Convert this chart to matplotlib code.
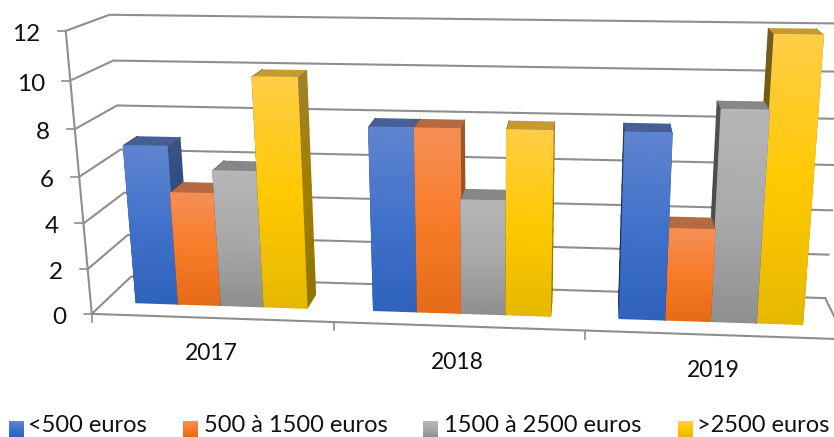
import numpy as np
import matplotlib
matplotlib.use('Agg')
import matplotlib.pyplot as plt
from matplotlib.colors import LinearSegmentedColormap
from matplotlib.patches import Polygon

years = ['2017', '2018', '2019']
series = ['<500 euros', '500 à 1500 euros', '1500 à 2500 euros', '>2500 euros']
low = [7, 8, 8]
mid = [5, 8, 4]
high = [6, 5, 9]
top = [10, 8, 12]
values = [low, mid, high, top]
yticks = [0, 2, 4, 6, 8, 10, 12]

# gradient stops top -> middle -> bottom, then colour of the top face
grads = [['#5F84D0', '#4172CB', '#2F62BC'],
         ['#F58F56', '#F97B28', '#E56B18'],
         ['#B6B6B6', '#A9A9A9', '#8F8F8F'],
         ['#FFCD47', '#FFC900', '#E5B800']]
top_cols = ['#475F96', '#B66A41', '#878787', '#C49A33']
grid_col = '#8E8E8E'

gap = 0.135
bar_w = 0.181
z_front = 0.31
z_back = 0.67

# camera calibration: (group, value, depth) -> pixel
calib = [(0, 0, 0, 91, 314), (0, 2, 0, 87, 268), (0, 4, 0, 83, 223), (0, 6, 0, 80, 176),
         (0, 8, 0, 75, 129), (0, 10, 0, 71, 81), (0, 12, 0, 66, 31),
         (0, 0, 1, 132, 277), (0, 2, 1, 128, 235), (0, 4, 1, 125, 193), (0, 6, 1, 120, 150),
         (0, 8, 1, 116, 105), (0, 10, 1, 113, 61), (0, 12, 1, 109, 15),
         (3, 0, 1, 825, 298), (3, 2, 1, 828, 254), (3, 4, 1, 832, 210), (3, 6, 1, 836, 165),
         (3, 8, 1, 839, 118), (3, 10, 1, 843, 72), (3, 12, 1, 846, 24),
         (1, 0, 0, 334, 323), (2, 0, 0, 586, 331), (3, 0, 0, 845, 340)]


def fit_camera(pts):
    rows = []
    for x, y, z, u, v in pts:
        rows.append([x, y, z, 1, 0, 0, 0, 0, -u*x, -u*y, -u*z, -u])
        rows.append([0, 0, 0, 0, x, y, z, 1, -v*x, -v*y, -v*z, -v])
    return np.linalg.svd(np.array(rows, dtype=float))[2][-1].reshape(3, 4)


P = fit_camera(calib)
vanish_x = P[0, 2] / P[2, 2]


def proj(x, y, z):
    x, y, z = np.broadcast_arrays(x, y, z)
    h = P @ np.array([x, y, z, np.ones_like(x)], dtype=float)
    return h[0] / h[2], h[1] / h[2]


def pt(x, y, z):
    u, v = proj(x, y, z)
    return float(u), float(v)


def shade(cols, f):
    return [tuple(c * f for c in matplotlib.colors.to_rgb(k)) for k in cols]


def grad_face(ax, xa, xb, za, zb, val, cmap, zo):
    hs = np.linspace(val, 0, 13)
    ua, va = proj(xa, hs, za)
    ub, vb = proj(xb, hs, zb)
    C = np.linspace(0, 1, 13)
    ax.pcolormesh(np.column_stack([ua, ub]), np.column_stack([va, vb]), np.column_stack([C, C]),
                  shading='gouraud', cmap=cmap, vmin=0, vmax=1, zorder=zo)


fig = plt.figure(figsize=(8.34, 4.37), dpi=100)
ax = fig.add_axes([0, 0, 1, 1])
ax.set_xlim(0, 834)
ax.set_ylim(437, 0)
ax.axis('off')
plt.rcParams['font.family'] = 'Lato'

# walls
for v in yticks:
    ax.plot(*zip(pt(0, v, 0), pt(0, v, 1), pt(3, v, 1)), color=grid_col, lw=1.5, zorder=1)
    u0, v0 = pt(0, v, 0)
    ax.plot([u0 - 8, u0], [v0, v0], color=grid_col, lw=1.2, zorder=1)
    ax.text(u0 - 25, v0 + 3.5, str(v), ha='right', va='center', fontsize=17.5, color='#111111')
ax.plot(*zip(pt(0, 0, 0), pt(0, 12, 0)), color=grid_col, lw=1.5, zorder=2)
ax.plot(*zip(pt(0, 0, 0), pt(3, 0, 0)), color=grid_col, lw=1.5, zorder=2)
ax.plot(*zip(pt(3, 0, 1), pt(3, 0, 0)), color=grid_col, lw=1.5, zorder=2)
for i in range(4):
    u0, v0 = pt(i, 0, 0)
    ax.plot([u0, u0], [v0, v0 + 8], color=grid_col, lw=1.2, zorder=1)

# group labels under the floor
for i, lab in enumerate(years):
    u0, v0 = pt(i + 0.5, 0, 0)
    ax.text(u0 - 1, v0 + 36, lab, ha='center', va='center', fontsize=16.5, color='#111111')

# bars, farthest from the vanishing point first
bars = []
for j, vals in enumerate(values):
    for i, val in enumerate(vals):
        x0 = i + gap + j * bar_w
        x1 = x0 + bar_w
        cx = pt((x0 + x1) / 2, 0, z_front)[0]
        bars.append((abs(cx - vanish_x), j, x0, x1, val))
bars.sort(key=lambda b: -b[0])

zo = 3
for _, j, x0, x1, val in bars:
    front = LinearSegmentedColormap.from_list('f', grads[j])
    left = LinearSegmentedColormap.from_list('l', shade(grads[j], 0.45))
    right = LinearSegmentedColormap.from_list('r', shade(grads[j], 0.63))
    grad_face(ax, x0, x0, z_front, z_back, val, left, zo)
    grad_face(ax, x1, x1, z_front, z_back, val, right, zo + 1)
    ax.add_patch(Polygon([pt(x0, val, z_front), pt(x1, val, z_front), pt(x1, val, z_back), pt(x0, val, z_back)],
                         closed=True, fc=top_cols[j], ec='none', zorder=zo + 2))
    grad_face(ax, x0, x1, z_front, z_front, val, front, zo + 3)
    zo += 4

# legend
leg_box = [9, 183, 423, 678]
leg_txt = [28, 204, 444, 697]
for j, name in enumerate(series):
    cm = LinearSegmentedColormap.from_list('k', grads[j])
    ax.imshow(np.linspace(0, 1, 16).reshape(-1, 1), cmap=cm, aspect='auto',
              extent=(leg_box[j], leg_box[j] + 15, 437, 421), zorder=50)
    ax.text(leg_txt[j], 436, name, ha='left', va='bottom', fontsize=17, color='#111111')
ax.set_xlim(0, 834)
ax.set_ylim(437, 0)

fig.savefig('out.png', dpi=100)
